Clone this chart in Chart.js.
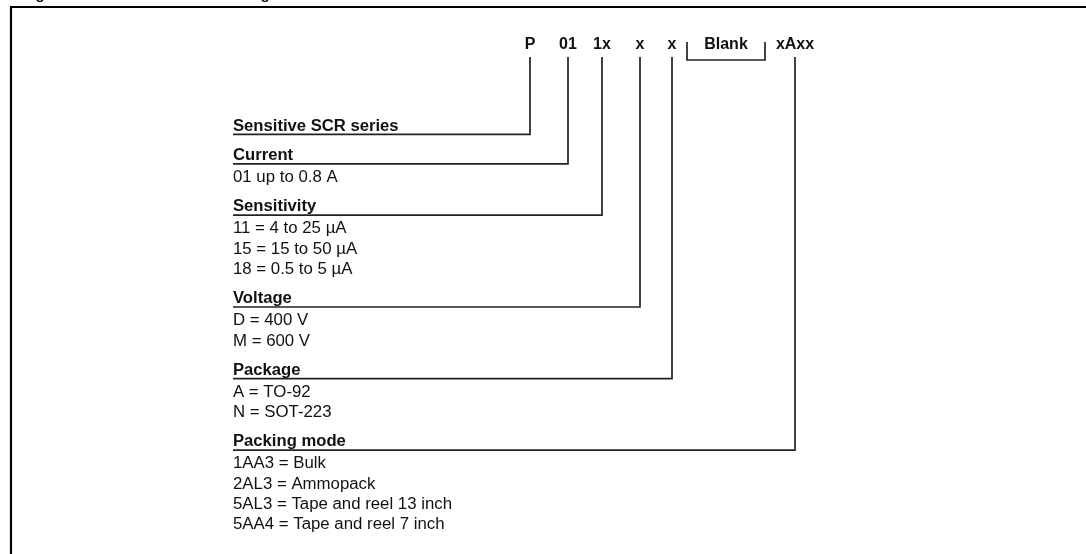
<!DOCTYPE html>
<html>
<head>
<meta charset="utf-8">
<script src="https://cdn.jsdelivr.net/npm/chart.js@4/dist/chart.umd.min.js"></script>
<style>
  html, body { margin: 0; padding: 0; background: #fff; }
  #wrap { position: relative; width: 1086px; height: 554px; }
</style>
</head>
<body>
<div id="wrap"><canvas id="c" width="1086" height="554"></canvas></div>
<script>
// ---------- DATA ----------
const titleParts = ['Figure 1.', 'Ordering information scheme'];
const codeSegments = ['P', '01', '1x', 'x', 'x', 'Blank', 'xAxx'];
const groupTitles = ['Sensitive SCR series', 'Current', 'Sensitivity', 'Voltage', 'Package', 'Packing mode'];
const groupSegment = [0, 1, 2, 3, 4, 6];
const seriesOptions = [];
const currentOptions = ['01 up to 0.8 A'];
const sensitivityOptions = ['11 = 4 to 25 µA', '15 = 15 to 50 µA', '18 = 0.5 to 5 µA'];
const voltageOptions = ['D = 400 V', 'M = 600 V'];
const packageOptions = ['A = TO-92', 'N = SOT-223'];
const packingOptions = ['1AA3 = Bulk', '2AL3 = Ammopack', '5AL3 = Tape and reel 13 inch', '5AA4 = Tape and reel 7 inch'];
const groupOptions = [seriesOptions, currentOptions, sensitivityOptions, voltageOptions, packageOptions, packingOptions];
const blankSegment = 5;

// ---------- LAYOUT ----------
const L = {
  textLeft: 233,
  codeBaseline: 49,
  codeCenters: [530, 568, 602, 640, 672, 726, 795],
  stemTop: 57,
  bracketHalf: 39, bracketTop: 42, bracketBottom: 60,
  firstHeader: 130.5,
  headerToHeader: 29.5,
  headerToItem: 22,
  itemStep: 20.3,
  itemToHeader: 29.3,
  underline: 3.8,
  frameX: 11, frameY: 7,
  titleBaseline: -1.5,
  headerStretch: 1.04,
  itemStretch: 1.05
};
const FONT = '"Liberation Sans", Arial, Helvetica, sans-serif';
const INK = '#111';
const LINE = '#222';

// compute rows
const headerY = [];
const itemRows = [];
let y = L.firstHeader;
groupTitles.forEach((t, i) => {
  if (i > 0) y += groupOptions[i - 1].length ? L.itemToHeader : L.headerToHeader;
  headerY.push(y);
  groupOptions[i].forEach((opt, j) => {
    y += j === 0 ? L.headerToItem : L.itemStep;
    itemRows.push({ text: opt, y: y });
  });
});

// connector datasets
const datasets = groupTitles.map((t, i) => {
  const cx = L.codeCenters[groupSegment[i]];
  const uy = headerY[i] + L.underline;
  return {
    data: [{ x: cx, y: L.stemTop }, { x: cx, y: uy }, { x: L.textLeft, y: uy }],
    showLine: true, borderColor: LINE, borderWidth: 1.7, pointRadius: 0, fill: false, tension: 0, clip: false
  };
});
const bc = L.codeCenters[blankSegment];
datasets.push({
  data: [{ x: bc - L.bracketHalf, y: L.bracketTop }, { x: bc - L.bracketHalf, y: L.bracketBottom },
         { x: bc + L.bracketHalf, y: L.bracketBottom }, { x: bc + L.bracketHalf, y: L.bracketTop }],
  showLine: true, borderColor: LINE, borderWidth: 1.7, pointRadius: 0, fill: false, tension: 0, clip: false
});
// frame
datasets.push({
  data: [{ x: L.frameX, y: 554 }, { x: L.frameX, y: L.frameY }, { x: 1086, y: L.frameY }],
  showLine: true, borderColor: '#000', borderWidth: 2.2, pointRadius: 0, fill: false, tension: 0, clip: false
});

function stretchText(ctx, text, x, y, sx) {
  ctx.save();
  ctx.translate(x, y);
  ctx.scale(sx, 1);
  ctx.fillText(text, 0, 0);
  ctx.restore();
}

const textPlugin = {
  id: 'schemeText',
  afterDatasetsDraw(chart) {
    const ctx = chart.ctx;
    const xs = chart.scales.x, ys = chart.scales.y;
    ctx.save();
    ctx.fillStyle = INK;
    ctx.textBaseline = 'alphabetic';
    // title (mostly cropped above the frame)
    ctx.font = 'bold 15px ' + FONT;
    ctx.textAlign = 'left';
    const fi = ctx.measureText('Fi').width, gw = ctx.measureText('g').width;
    ctx.fillText(titleParts[0], xs.getPixelForValue(40) - fi - gw / 2, ys.getPixelForValue(L.titleBaseline));
    const ordw = ctx.measureText('Orderin').width;
    ctx.fillText(titleParts[1], xs.getPixelForValue(265) - ordw - gw / 2, ys.getPixelForValue(L.titleBaseline));
    // code segments
    ctx.font = 'bold 16px ' + FONT;
    ctx.textAlign = 'center';
    codeSegments.forEach((s, i) => {
      ctx.fillText(s, xs.getPixelForValue(L.codeCenters[i]), ys.getPixelForValue(L.codeBaseline));
    });
    // headers
    ctx.textAlign = 'left';
    groupTitles.forEach((t, i) => {
      stretchText(ctx, t, xs.getPixelForValue(L.textLeft), ys.getPixelForValue(headerY[i]), L.headerStretch);
    });
    // items
    ctx.font = '16px ' + FONT;
    itemRows.forEach(r => {
      stretchText(ctx, r.text, xs.getPixelForValue(L.textLeft), ys.getPixelForValue(r.y), L.itemStretch);
    });
    ctx.restore();
  }
};

new Chart(document.getElementById('c'), {
  type: 'scatter',
  data: { datasets },
  options: {
    responsive: false,
    animation: false,
    layout: { padding: 0 },
    plugins: { legend: { display: false }, tooltip: { enabled: false }, title: { display: false } },
    scales: {
      x: { type: 'linear', min: 0, max: 1086, display: false },
      y: { type: 'linear', min: 0, max: 554, reverse: true, display: false }
    }
  },
  plugins: [textPlugin]
});
</script>
</body>
</html>
